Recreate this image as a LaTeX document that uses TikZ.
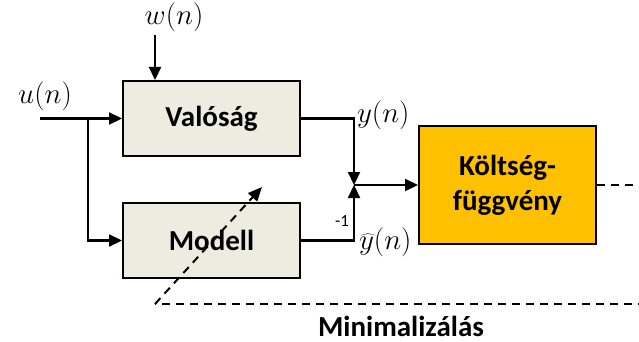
\RequirePackage{fix-cm}
\documentclass[tikz,border=0pt]{standalone}
\usepackage{fontspec}
\setmainfont{Carlito}
\usetikzlibrary{arrows.meta}
\definecolor{boxgray}{HTML}{EEECE1}
\definecolor{costorange}{HTML}{FFC000}
\begin{document}
\begin{tikzpicture}[x=1pt,y=-1pt,
  line width=2.2pt,
  sig/.style={-{Triangle[length=13pt,width=12pt]}},
  blockbox/.style={draw, line width=2pt, fill=boxgray, minimum width=177pt, minimum height=75pt,
    font=\fontsize{29}{34}\selectfont\bfseries},
  costbox/.style={draw, line width=2pt, fill=costorange, minimum width=177pt, minimum height=118pt,
    align=center, font=\fontsize{29}{35}\selectfont\bfseries},
  loop/.style={dash pattern=on 8pt off 6pt, line width=2pt},
  mlabel/.style={font=\fontsize{29}{33}\selectfont, inner sep=0pt}]
\useasboundingbox (0,0) rectangle (639,342);
\clip (0,0) rectangle (639,342);

% blocks
\node[blockbox] (val) at (211.5,118.5) {Valóság};
\node[blockbox] (mod) at (211.5,240.5) {Modell};
\node[costbox]  (kf)  at (507.5,185) {Költség-\\függvény};

% input branch
\coordinate (uin) at (40,118.5);
\coordinate (br)  at (88,118.5);
\coordinate (win) at (155,35);
\coordinate (sum) at (354,185);
\draw[sig] (uin) -- (val.west);
\draw[sig] (br) |- (mod.west);
\draw[sig] (win) -- (win |- val.north);

% summing point
\draw[sig] (val.east) -| (sum);
\draw[sig] (mod.east) -| (sum);
\draw[sig] (sum) -- (kf.west);

% signal labels
\node[mlabel] (ulab) at (45,96) {$u(n)$};
\node[mlabel] (wlab) at (174,17) {$w(n)$};
\node[mlabel, anchor=west] (ylab) at (356,115) {$y(n)$};
\node[mlabel, anchor=north west] (yhlab) at (358,227) {$\widehat{y}(n)$};
\node[font=\fontsize{17}{19}\selectfont, inner sep=0pt, anchor=east] (gain) at (350,221) {-1};

% adaptation loop
\coordinate (ltop) at (660,185);
\coordinate (lbot) at (660,304);
\coordinate (lend) at (155,304);
\coordinate (ltip) at (262,187);
\draw[loop] (kf.east) -- (ltop) -- (lbot) -- (lend);
\draw[loop, -{Triangle[length=14pt,width=12pt]}] (lend) -- (ltip);
\node[font=\fontsize{29}{34}\selectfont\bfseries, inner sep=0pt] (minlab) at (401,326) {Minimalizálás};
\end{tikzpicture}
\end{document}
